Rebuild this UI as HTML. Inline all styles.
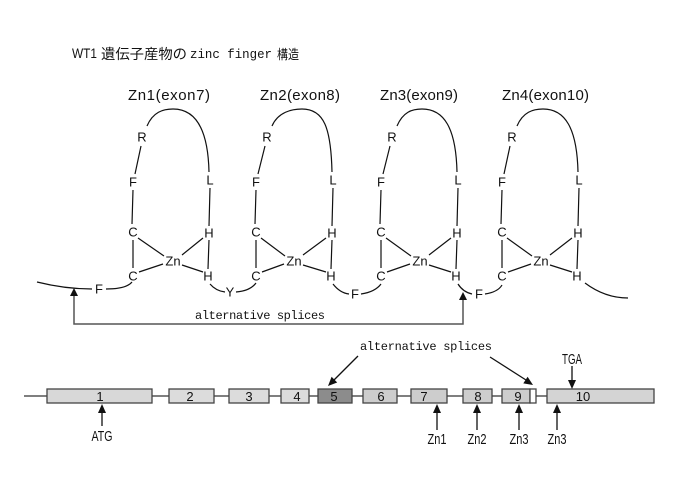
<!DOCTYPE html>
<html><head><meta charset="utf-8"><style>
html,body{margin:0;padding:0;background:#fff;width:694px;height:484px;overflow:hidden}
svg{display:block}
text{font-family:"Liberation Sans","Noto Sans CJK JP",sans-serif;fill:#111}
.r{font-size:13px;text-anchor:middle;dominant-baseline:central}
.m{font-family:"Liberation Mono","Noto Sans CJK JP",monospace;font-size:12px}
</style></head><body>
<svg width="694" height="484" viewBox="0 0 694 484" xmlns="http://www.w3.org/2000/svg">
<!-- title -->
<text x="72" y="58" font-size="14" textLength="25" lengthAdjust="spacingAndGlyphs">WT1</text>
<text x="101" y="59" font-size="14" textLength="86" lengthAdjust="spacingAndGlyphs">遺伝子産物の</text>
<text x="190" y="58" font-size="14" class="m" style="font-size:13px" textLength="82" lengthAdjust="spacingAndGlyphs">zinc finger</text>
<text x="277" y="59" font-size="13" textLength="22" lengthAdjust="spacingAndGlyphs">構造</text>

<!-- finger titles -->
<text x="128" y="100" font-size="15" textLength="82" lengthAdjust="spacing">Zn1(exon7)</text>
<text x="260" y="100" font-size="15" textLength="80" lengthAdjust="spacing">Zn2(exon8)</text>
<text x="380" y="100" font-size="15" textLength="78" lengthAdjust="spacing">Zn3(exon9)</text>
<text x="502" y="100" font-size="15" textLength="87" lengthAdjust="spacing">Zn4(exon10)</text>

<g fill="none" stroke="#111" stroke-width="1.2">
<!-- finger 1 -->
<path d="M147,126 C153,112 163,109 173,109 C195,109 208,128 209,172"/>
<path d="M141,146 L135,174 M133,190 L132,224 M133,240 L133,268 M138,238 L164,256 M139,272 L163,264 M182,255 L203,238 M182,265 L203,272 M210,188 L209,226 M209,240 L208,269"/>
<!-- finger 2 -->
<path d="M272,126 C278,112 292,109 302,109 C324,109 331,128 332,172"/>
<path d="M265,146 L258,174 M256,190 L255,224 M256,240 L256,268 M261,238 L285,256 M262,272 L284,264 M303,255 L326,238 M303,265 L326,272 M333,188 L332,226 M332,240 L331,269"/>
<!-- finger 3 -->
<path d="M397,126 C403,112 412,109 422,109 C444,109 456,128 457,172"/>
<path d="M390,146 L383,174 M381,190 L380,224 M381,240 L381,268 M386,238 L411,256 M387,272 L410,264 M429,255 L451,238 M429,265 L451,272 M458,188 L457,226 M457,240 L456,269"/>
<!-- finger 4 -->
<path d="M517,126 C523,112 533,109 543,109 C565,109 577,128 578,172"/>
<path d="M510,146 L504,174 M502,190 L501,224 M502,240 L502,268 M507,238 L532,256 M508,272 L531,264 M550,255 L572,238 M550,265 L572,272 M579,188 L578,226 M578,240 L577,269"/>
<!-- backbone -->
<path d="M37,282 Q65,289 92,289"/>
<path d="M106,289 C118,289 128,287 132,282"/>
<path d="M210,284 Q216,291 225,292"/>
<path d="M236,292 Q250,291 256,283"/>
<path d="M333,284 Q340,293 349,294"/>
<path d="M361,294 Q375,292 381,284"/>
<path d="M458,284 Q463,292 472,294"/>
<path d="M485,294 Q498,292 502,285"/>
<path d="M585,283 Q605,298 628,298"/>
</g>

<!-- residues -->
<g>
<text class="r" x="142" y="137">R</text><text class="r" x="133" y="182">F</text><text class="r" x="210" y="180">L</text>
<text class="r" x="133" y="232">C</text><text class="r" x="133" y="276">C</text><text class="r" x="209" y="233">H</text><text class="r" x="208" y="276">H</text><text class="r" x="173" y="261">Zn</text>
<text class="r" x="267" y="137">R</text><text class="r" x="256" y="182">F</text><text class="r" x="333" y="180">L</text>
<text class="r" x="256" y="232">C</text><text class="r" x="256" y="276">C</text><text class="r" x="332" y="233">H</text><text class="r" x="331" y="276">H</text><text class="r" x="294" y="261">Zn</text>
<text class="r" x="392" y="137">R</text><text class="r" x="381" y="182">F</text><text class="r" x="458" y="180">L</text>
<text class="r" x="381" y="232">C</text><text class="r" x="381" y="276">C</text><text class="r" x="457" y="233">H</text><text class="r" x="456" y="276">H</text><text class="r" x="420" y="261">Zn</text>
<text class="r" x="512" y="137">R</text><text class="r" x="502" y="182">F</text><text class="r" x="579" y="180">L</text>
<text class="r" x="502" y="232">C</text><text class="r" x="502" y="276">C</text><text class="r" x="578" y="233">H</text><text class="r" x="577" y="276">H</text><text class="r" x="541" y="261">Zn</text>
<text class="r" x="99" y="289">F</text><text class="r" x="230" y="292">Y</text><text class="r" x="355" y="294">F</text><text class="r" x="479" y="294">F</text>
</g>

<!-- splice connector -->
<path d="M74,295 L74,324 L463,324 L463,298" fill="none" stroke="#555" stroke-width="1.5"/>
<polygon points="74,288 70,296 78,296" fill="#111"/>
<polygon points="463,292 459,300 467,300" fill="#111"/>
<text class="m" x="195" y="319" textLength="130" lengthAdjust="spacing">alternative splices</text>

<!-- gene structure -->
<line x1="24" y1="396" x2="654" y2="396" stroke="#333" stroke-width="1.2"/>
<g stroke="#444" stroke-width="1.3">
<rect x="47" y="389" width="105" height="14" fill="#d8d8d8"/>
<rect x="169" y="389" width="45" height="14" fill="#dcdcdc"/>
<rect x="229" y="389" width="40" height="14" fill="#dcdcdc"/>
<rect x="281" y="389" width="28" height="14" fill="#dcdcdc"/>
<rect x="318" y="389" width="34" height="14" fill="#8c8c8c"/>
<rect x="363" y="389" width="34" height="14" fill="#cdcdcd"/>
<rect x="411" y="389" width="36" height="14" fill="#cdcdcd"/>
<rect x="463" y="389" width="29" height="14" fill="#cdcdcd"/>
<rect x="502" y="389" width="28" height="14" fill="#cdcdcd"/>
<rect x="530" y="389" width="6" height="14" fill="#ffffff"/>
<rect x="547" y="389" width="107" height="14" fill="#d4d4d4"/>
</g>
<g font-size="13" text-anchor="middle">
<text x="100" y="401">1</text><text x="190" y="401">2</text><text x="249" y="401">3</text><text x="297" y="401">4</text>
<text x="334" y="401">5</text><text x="381" y="401">6</text><text x="424" y="401">7</text><text x="478" y="401">8</text>
<text x="518" y="401">9</text><text x="583" y="401">10</text>
</g>

<!-- gene arrows -->
<g stroke="#111" stroke-width="1.3">
<line x1="102" y1="426" x2="102" y2="410"/>
<line x1="437" y1="430" x2="437" y2="410"/>
<line x1="477" y1="430" x2="477" y2="410"/>
<line x1="519" y1="430" x2="519" y2="410"/>
<line x1="557" y1="430" x2="557" y2="410"/>
<line x1="572" y1="366" x2="572" y2="382"/>
<line x1="358" y1="356" x2="333" y2="381"/>
<line x1="490" y1="357" x2="526" y2="380"/>
</g>
<g fill="#111">
<polygon points="102,404 98,413 106,413"/>
<polygon points="437,404 433,413 441,413"/>
<polygon points="477,404 473,413 481,413"/>
<polygon points="519,404 515,413 523,413"/>
<polygon points="557,404 553,413 561,413"/>
<polygon points="572,389 568,380 576,380"/>
<polygon points="328,386 337.2,382.5 331.6,376.8"/>
<polygon points="533,385 523.3,383.4 527.6,376.7"/>
</g>
<g font-size="15" text-anchor="middle">
<text x="102" y="441" textLength="21" lengthAdjust="spacingAndGlyphs">ATG</text>
<text x="437" y="444" textLength="19" lengthAdjust="spacingAndGlyphs">Zn1</text>
<text x="477" y="444" textLength="19" lengthAdjust="spacingAndGlyphs">Zn2</text>
<text x="519" y="444" textLength="19" lengthAdjust="spacingAndGlyphs">Zn3</text>
<text x="557" y="444" textLength="19" lengthAdjust="spacingAndGlyphs">Zn3</text>
<text x="572" y="364" textLength="20" lengthAdjust="spacingAndGlyphs">TGA</text>
</g>
<text class="m" x="360" y="350" textLength="132" lengthAdjust="spacing">alternative splices</text>
</svg>
</body></html>
